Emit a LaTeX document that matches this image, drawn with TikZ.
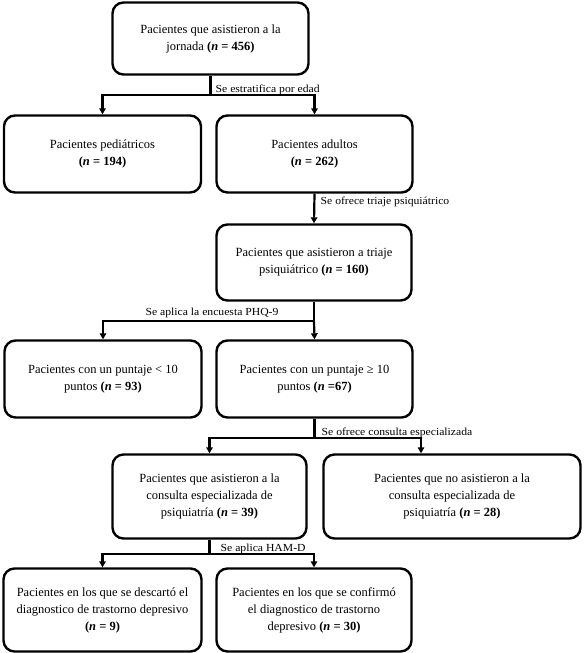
\documentclass[tikz,border=0pt]{standalone}
\usepackage{fontspec}
\setmainfont{Liberation Serif}
\newfontfamily\labfont[FakeStretch=1.08]{Liberation Serif}
\usetikzlibrary{arrows.meta}
\begin{document}
\begin{tikzpicture}[x=1pt,y=-1pt,
  box/.style={draw, line width=2.4pt, rounded corners=11pt, align=center, inner sep=2pt, font=\fontsize{12.5}{17}\selectfont},
  conn/.style={line width=2.2pt},
  arr/.style={conn, -{Triangle[length=6pt,width=6.5pt]}},
  lab/.style={font=\labfont\fontsize{10.8}{12}\selectfont, inner sep=1pt}]
\useasboundingbox (0,0) rectangle (584,653);
\newcommand{\nn}[1]{\textbf{(\textit{n} = #1)}}
\node[box, minimum width=196pt, minimum height=72pt] (b1) at (210.5,38.5) {Pacientes que asistieron a la\\jornada \nn{456}};
\node[box, minimum width=197pt, minimum height=77pt] (b2) at (102.5,154) {Pacientes pediátricos\\\nn{194}};
\node[box, minimum width=196pt, minimum height=77pt] (b3) at (314.5,154) {Pacientes adultos\\\nn{262}};
\node[box, minimum width=195pt, minimum height=76pt] (b4) at (314,262.5) {Pacientes que asistieron a triaje\\psiquiátrico \nn{160}};
\node[box, minimum width=197pt, minimum height=77pt] (b5) at (103,379) {Pacientes con un puntaje < 10\\puntos \nn{93}};
\node[box, minimum width=196pt, minimum height=77pt] (b6) at (314.5,379) {Pacientes con un puntaje ≥ 10\\puntos \textbf{(\textit{n} =67)}};
\node[box, minimum width=194pt, minimum height=84pt] (b7) at (209.5,496.5) {Pacientes que asistieron a la\\consulta especializada de\\psiquiatría \nn{39}};
\node[box, minimum width=257pt, minimum height=84pt] (b8) at (452,496.5) {Pacientes que no asistieron a la\\consulta especializada de\\psiquiatría \nn{28}};
\node[box, minimum width=198pt, minimum height=83pt] (b9) at (102.5,610) {Pacientes en los que se descartó el\\diagnostico de trastorno depresivo\\\nn{9}};
\node[box, minimum width=195pt, minimum height=83pt] (b10) at (314,610) {Pacientes en los que se confirmó\\el diagnostico de trastorno\\depresivo \nn{30}};
% level 1
\coordinate (j1) at (b1.south |- 0,95);
\draw[conn] (b1.south) -- (j1);
\draw[arr] (j1) -| (b2.north);
\draw[arr] (j1) -| (b3.north);
\node[lab, anchor=south west] (l1) at ([xshift=4pt,yshift=-1pt]j1) {Se estratifica por edad};
% level 2
\draw[arr] (b3.south) -- (b4.north);
\node[lab, anchor=west] (l2) at ([xshift=5pt]b3.south |- 0,202) {Se ofrece triaje psiquiátrico};
% level 3
\coordinate (j3) at (b4.south |- 0,321);
\draw[conn] (b4.south) -- (j3);
\draw[arr] (j3) -| (b5.north);
\draw[arr] (j3) -- (b6.north);
\node[lab, anchor=south] (l3) at (212,319) {Se aplica la encuesta PHQ-9};
% level 4
\coordinate (j4) at (b6.south |- 0,438);
\draw[conn] (b6.south) -- (j4);
\draw[arr] (j4) -| (b7.north);
\draw[arr] (j4) -| ([xshift=-31pt]b8.north);
\node[lab, anchor=south west] (l4) at ([xshift=6pt,yshift=-1pt]j4) {Se ofrece consulta especializada};
% level 5
\coordinate (j5) at (b7.south |- 0,554);
\draw[conn] (b7.south) -- (j5);
\draw[arr] (j5) -| (b9.north);
\draw[arr] (j5) -| (b10.north);
\node[lab, anchor=south west] (l5) at ([xshift=10pt,yshift=-1pt]j5) {Se aplica HAM-D};
\end{tikzpicture}
\end{document}
